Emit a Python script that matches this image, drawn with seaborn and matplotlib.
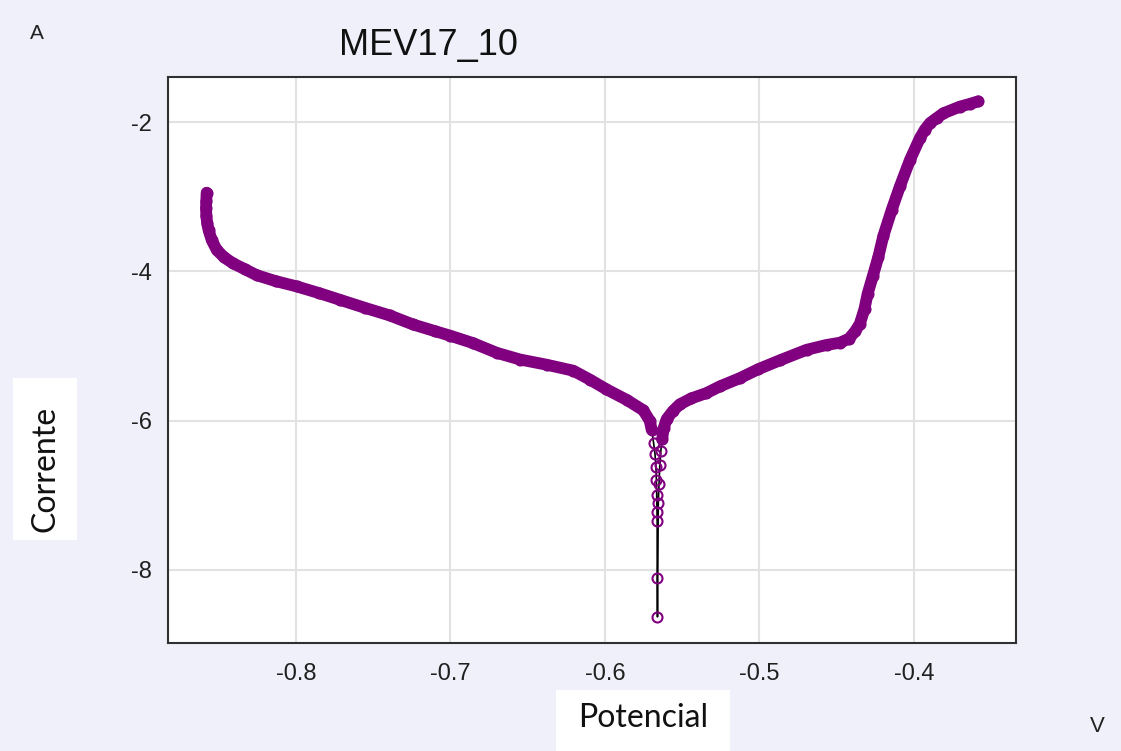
import pandas as pd
import matplotlib.pyplot as plt
import seaborn as sns
from matplotlib.patches import Rectangle
from matplotlib.ticker import MultipleLocator

# curva de polarização MEV17_10
# ramo catódico: do início do varrimento até perto do potencial de corrosão
potencial_catodico = [-0.8578, -0.8580, -0.8582, -0.8580, -0.8575, -0.8565, -0.8545, -0.8513,
                      -0.8465, -0.8408, -0.8330, -0.8254, -0.8130, -0.7996, -0.7850, -0.7715,
                      -0.7550, -0.7392, -0.7243, -0.7100, -0.7003, -0.6854, -0.6701, -0.6550,
                      -0.6377, -0.6205, -0.6097, -0.5990, -0.5860, -0.5752, -0.5710, -0.5698]
corrente_catodico = [-2.944, -3.05, -3.15, -3.25, -3.35, -3.45, -3.58, -3.71,
                     -3.81, -3.89, -3.97, -4.05, -4.13, -4.20, -4.29, -4.38,
                     -4.49, -4.59, -4.71, -4.80, -4.86, -4.96, -5.09, -5.18,
                     -5.25, -5.33, -5.45, -5.58, -5.72, -5.86, -6.00, -6.12]

# pontos isolados junto ao potencial de corrosão
potencial_cauda = [-0.5685, -0.5676, -0.5670, -0.5667, -0.5665, -0.5663, -0.5662, -0.5662,
                   -0.5660, -0.5655, -0.5650, -0.5645, -0.5638]
corrente_cauda = [-6.30, -6.45, -6.62, -6.80, -6.99, -7.22, -7.35, -8.11,
                  -8.63, -7.10, -6.85, -6.60, -6.40]

# ramo anódico
potencial_anodico = [-0.5630, -0.5620, -0.5601, -0.5560, -0.5515, -0.5440, -0.5343, -0.5256,
                     -0.5127, -0.5008, -0.4867, -0.4695, -0.4566, -0.4479, -0.4420, -0.4380,
                     -0.4350, -0.4320, -0.4300, -0.4266, -0.4230, -0.4199, -0.4145, -0.4091,
                     -0.4026, -0.3961, -0.3930, -0.3896, -0.3850, -0.3810, -0.3702, -0.3640,
                     -0.3584]
corrente_anodico = [-6.25, -6.10, -5.98, -5.87, -5.78, -5.70, -5.63, -5.54,
                    -5.43, -5.31, -5.19, -5.05, -4.985, -4.955, -4.90, -4.80,
                    -4.70, -4.50, -4.30, -4.06, -3.80, -3.53, -3.18, -2.86,
                    -2.505, -2.21, -2.10, -2.01, -1.94, -1.88, -1.79, -1.755,
                    -1.72]

cat = pd.DataFrame({'potencial': potencial_catodico, 'corrente': corrente_catodico})
cauda = pd.DataFrame({'potencial': potencial_cauda, 'corrente': corrente_cauda})
ano = pd.DataFrame({'potencial': potencial_anodico, 'corrente': corrente_anodico})
df = pd.concat([cat, cauda, ano], ignore_index=True)

sns.set_theme(style="white")
plt.rcParams['font.family'] = ['Liberation Sans', 'DejaVu Sans']

fundo = '#F0F0FA'
roxo = '#800080'

fig = plt.figure(figsize=(11.21, 7.51), dpi=100, facecolor=fundo)
ax = fig.add_axes([0.1496, 0.1442, 0.7564, 0.7537])
ax.set_facecolor('white')

# linha fina preta a ligar todos os pontos
sns.lineplot(data=df, x='potencial', y='corrente', sort=False, estimator=None,
             color='black', lw=1.2, ax=ax, zorder=2)
# faixa densa de pontos nos dois ramos
for ramo in [cat, ano]:
    sns.lineplot(data=ramo, x='potencial', y='corrente', sort=False, estimator=None,
                 color=roxo, lw=8.5, solid_capstyle='round', solid_joinstyle='round',
                 ax=ax, zorder=3)
# marcadores abertos
sns.lineplot(data=df, x='potencial', y='corrente', sort=False, estimator=None,
             linestyle='', marker='o', markersize=7.2, markerfacecolor='none',
             markeredgecolor=roxo, markeredgewidth=1.5, ax=ax, zorder=4)

ax.set_xlim(-0.883, -0.3342)
ax.set_ylim(-8.976, -1.389)
ax.xaxis.set_major_locator(MultipleLocator(0.1))
ax.xaxis.set_minor_locator(MultipleLocator(0.05))
ax.yaxis.set_major_locator(MultipleLocator(2))
ax.yaxis.set_minor_locator(MultipleLocator(1))
ax.set_xticklabels([f'{v:.1f}' for v in ax.get_xticks()])
ax.set_yticklabels([f'{v:.0f}' for v in ax.get_yticks()])

ax.grid(True, which='major', color='#E2E2E2', lw=1.5)
ax.set_axisbelow(True)
for s in ax.spines.values():
    s.set_color('#303030')
    s.set_linewidth(1.5)
ax.tick_params(which='major', direction='out', length=10.5, width=1.5, color='#303030',
               labelsize=17, labelcolor='#202020')
ax.tick_params(which='minor', direction='out', length=5, width=1.5, color='#303030')
ax.tick_params(axis='x', which='major', pad=4)
ax.tick_params(axis='y', which='major', pad=1)
ax.set_xlabel('')
ax.set_ylabel('')

# textos à volta do gráfico
fig.text(0.382, 0.927, 'MEV17_10', fontsize=26, ha='center', va='baseline', color='#111111')
fig.text(0.033, 0.956, 'A', fontsize=15, ha='center', va='center', color='#222222')
fig.text(0.979, 0.033, 'V', fontsize=16, ha='center', va='center', color='#222222')

# caixas brancas dos rótulos dos eixos
fig.patches.append(Rectangle((13 / 1121, 1 - 540 / 751), 64 / 1121, 162 / 751,
                             transform=fig.transFigure, facecolor='white', edgecolor='none'))
fig.patches.append(Rectangle((556 / 1121, 0), 174 / 1121, 61 / 751,
                             transform=fig.transFigure, facecolor='white', edgecolor='none'))
fig.text(45 / 1121, 1 - 469 / 751, 'Corrente', fontsize=23, family='Lato', rotation=90,
         ha='center', va='center', color='#111111')
fig.text(643 / 1121, 1 - 718 / 751, 'Potencial', fontsize=23, family='Lato',
         ha='center', va='center', color='#111111')

fig.savefig('out.png', dpi=100, facecolor=fundo)
